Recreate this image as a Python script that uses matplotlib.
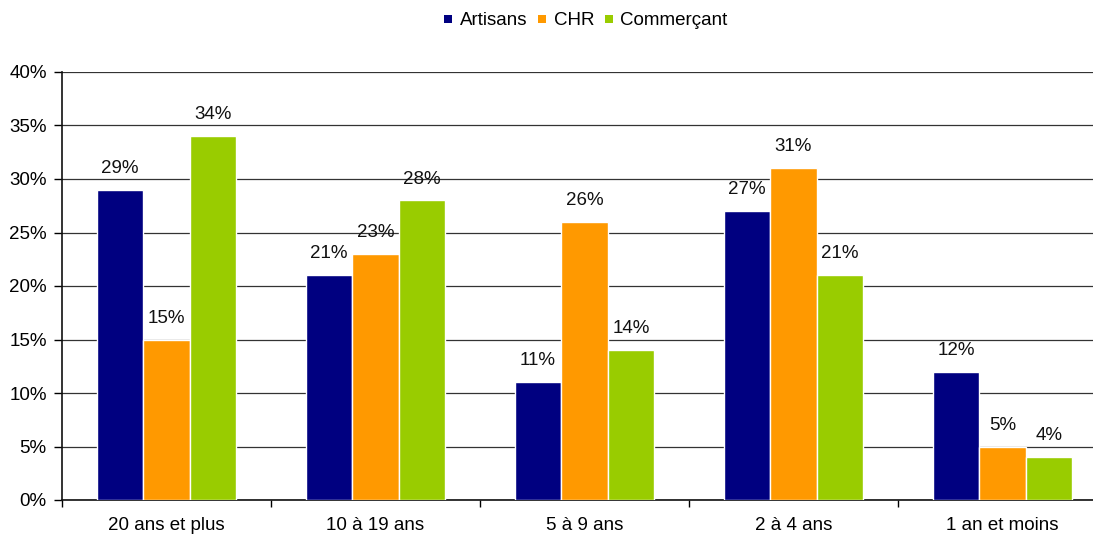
import matplotlib
matplotlib.use("Agg")
import matplotlib.pyplot as plt
import numpy as np
from matplotlib.lines import Line2D
from matplotlib.ticker import MultipleLocator, FuncFormatter

plt.rcParams['font.family'] = ['Liberation Sans', 'DejaVu Sans']

categories = ["20 ans et plus", "10 à 19 ans", "5 à 9 ans", "2 à 4 ans", "1 an et moins"]
series_names = ["Artisans", "CHR", "Commerçant"]
artisans = [29, 21, 11, 27, 12]
chr_vals = [15, 23, 26, 31, 5]
commercant = [34, 28, 14, 21, 4]
colors = ["#000080", "#FF9900", "#99CC00"]

FS = 13.5

fig = plt.figure(figsize=(10.93, 5.35), dpi=100)
# plot area runs slightly past the right edge of the figure
ax = fig.add_axes([62 / 1093, 35 / 535, (1107 - 62) / 1093, (500 - 72) / 535])

x = np.arange(len(categories))
width = 0.222
offsets = [-width, 0, width]
for vals, name, col, off in zip([artisans, chr_vals, commercant], series_names, colors, offsets):
    bars = ax.bar(x + off, vals, width, color=col, edgecolor="white", linewidth=1.0,
                  label=name, zorder=3)
    for b, v in zip(bars, vals):
        ax.text(b.get_x() + b.get_width() / 2, v + 1.2, f"{v}%", ha="center", va="bottom",
                fontsize=FS, color="#111111")

ax.set_xlim(-0.5, len(categories) - 0.5)
ax.set_ylim(0, 40)
ax.yaxis.set_major_locator(MultipleLocator(5))
ax.yaxis.set_major_formatter(FuncFormatter(lambda v, p: f"{int(v)}%"))
ax.yaxis.grid(True, color="#333333", linewidth=0.9, zorder=0)
ax.set_axisbelow(True)

ax.set_xticks(x)
ax.set_xticklabels(categories, fontsize=FS)
ax.tick_params(axis="x", which="major", length=0, pad=12)
ax.set_xticks(np.arange(-0.5, len(categories)), minor=True)
ax.tick_params(axis="x", which="minor", length=5, width=1, direction="out")
ax.tick_params(axis="y", length=6, width=1, direction="out", labelsize=FS, pad=5)

for s in ["top", "right"]:
    ax.spines[s].set_visible(False)
for s in ["left", "bottom"]:
    ax.spines[s].set_linewidth(1.2)
    ax.spines[s].set_color("#111111")

handles = [Line2D([], [], marker="s", linestyle="none", color=c, markersize=6.2,
                  markeredgewidth=0) for c in colors]
fig.legend(handles, series_names, loc="upper center", bbox_to_anchor=(0.536, 1.009),
           ncol=3, frameon=False, fontsize=FS, handlelength=0.45, handletextpad=0.4,
           columnspacing=0.55)

fig.savefig("out.png", dpi=100)
